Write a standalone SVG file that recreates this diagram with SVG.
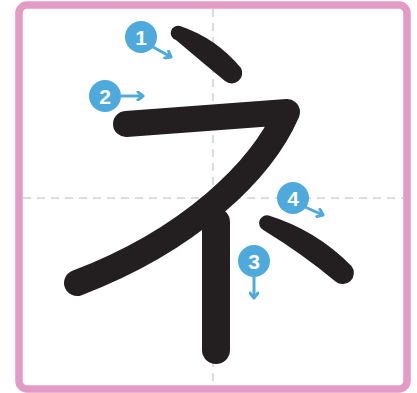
<svg xmlns="http://www.w3.org/2000/svg" width="417" height="393" viewBox="0 0 417 393">
<defs>
<style>
.frame{fill:#fff;stroke:#e39bc5;stroke-width:7.5}
.guide{stroke:#dcdcdc;stroke-width:2;stroke-dasharray:8 6;fill:none}
.stroke{fill:none;stroke:#231f20;stroke-linecap:round;stroke-linejoin:round}
.ink{fill:#231f20}
.badge{fill:#4ea9dd}
.num{fill:#fff;font-family:"Liberation Sans",Arial,sans-serif;font-weight:bold;font-size:21px;text-anchor:middle}
.arr{fill:none;stroke:#4ea9dd;stroke-width:3;marker-end:url(#head)}
</style>
<marker id="head" viewBox="0 0 10 10" refX="7" refY="5" markerWidth="10" markerHeight="10" markerUnits="userSpaceOnUse" orient="auto">
<path d="M2,1 L7,5 L2,9" fill="none" stroke="#4ea9dd" stroke-width="3" stroke-linecap="round" stroke-linejoin="round"/>
</marker>
</defs>
<rect class="frame" x="19" y="5" width="388" height="384" rx="8"/>
<g id="guides">
<line class="guide" x1="213" y1="9" x2="213" y2="385"/>
<line class="guide" x1="23" y1="198" x2="403" y2="198"/>
</g>
<g id="stroke1"><path class="ink" d="M180,26 Q216,38 241,68 A10.5,10.5 0 0 1 225,81 Q203,63 176,40 A7,7 0 0 1 180,26 Z"/></g>
<g id="stroke2"><path class="stroke" stroke-width="26" d="M126,124 L287,112 C262,170 190,240 77,283"/></g>
<g id="stroke3"><path class="stroke" stroke-width="28" d="M216,222 L216,350"/></g>
<g id="stroke4"><path class="ink" d="M268.7,215.5 Q316,230 351.5,266 A11.2,11.2 0 0 1 335.5,281.5 Q304,255 263.3,230 A7.8,7.8 0 0 1 268.7,215.5 Z"/></g>
<g id="connectors">
<path class="arr" d="M153,47 L171,57"/>
<path class="arr" d="M121,96 L143,96"/>
<path class="arr" d="M254,277 L254,298"/>
<path class="arr" d="M305,207 L323,215"/>
</g>
<g id="badge1"><circle class="badge" cx="141" cy="37" r="16"/><text class="num" x="141" y="44.5">1</text></g>
<g id="badge2"><circle class="badge" cx="105" cy="96" r="16"/><text class="num" x="105" y="103.5">2</text></g>
<g id="badge3"><circle class="badge" cx="254" cy="261" r="16"/><text class="num" x="254" y="268.5">3</text></g>
<g id="badge4"><circle class="badge" cx="293" cy="198" r="16"/><text class="num" x="293" y="205.5">4</text></g>
</svg>
